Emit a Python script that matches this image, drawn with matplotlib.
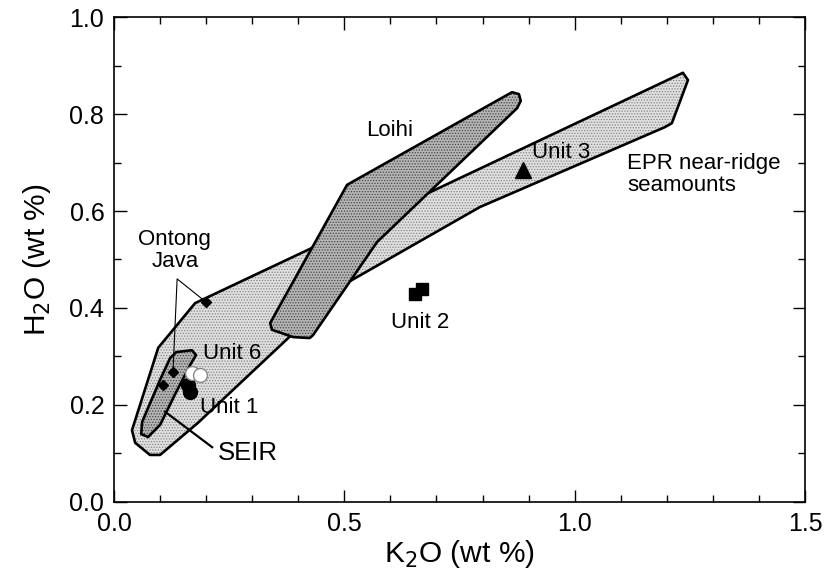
import matplotlib
matplotlib.use("Agg")
import matplotlib.pyplot as plt
from matplotlib.patches import Polygon
from matplotlib.ticker import MultipleLocator, FormatStrFormatter

plt.rcParams['font.family'] = ['Liberation Sans', 'DejaVu Sans']
plt.rcParams['hatch.linewidth'] = 0.6

# Compositional fields (K2O, H2O in wt %)
epr_k2o = [0.176, 1.235, 1.246, 1.211, 1.196, 0.794, 0.506, 0.182,
           0.100, 0.078, 0.046, 0.039, 0.096]
epr_h2o = [0.410, 0.885, 0.870, 0.781, 0.773, 0.608, 0.452, 0.163,
           0.097, 0.097, 0.122, 0.148, 0.318]

loihi_k2o = [0.506, 0.339, 0.343, 0.389, 0.425, 0.432, 0.571, 0.875,
             0.883, 0.879, 0.864]
loihi_h2o = [0.654, 0.369, 0.355, 0.340, 0.338, 0.344, 0.536, 0.812,
             0.827, 0.841, 0.845]

seir_k2o = [0.135, 0.169, 0.178, 0.165, 0.132, 0.100, 0.074, 0.059,
            0.061, 0.100, 0.122]
seir_h2o = [0.309, 0.313, 0.303, 0.282, 0.221, 0.159, 0.134, 0.140,
            0.165, 0.252, 0.297]

# Sample points
ontong_k2o = [0.200, 0.128, 0.106]
ontong_h2o = [0.412, 0.268, 0.241]
unit1_k2o = [0.161, 0.165]
unit1_h2o = [0.241, 0.227]
unit6_k2o = [0.169, 0.187]
unit6_h2o = [0.266, 0.262]
unit2_k2o = [0.653, 0.668]
unit2_h2o = [0.429, 0.439]
unit3_k2o = [0.888]
unit3_h2o = [0.685]

fig = plt.figure(figsize=(8.28, 5.75), dpi=100)
ax = fig.add_axes([0.1377, 0.127, 0.8345, 0.8434])


def field(ax, xs, ys, face, dots, z):
    pts = list(zip(xs, ys))
    ax.add_patch(Polygon(pts, closed=True, facecolor=face, edgecolor=dots,
                         hatch='......', linewidth=0, zorder=z))
    ax.add_patch(Polygon(pts, closed=True, fill=False, edgecolor='black',
                         linewidth=1.9, joinstyle='round', zorder=z + 0.1))


field(ax, epr_k2o, epr_h2o, '#e0e0e0', '#858585', 1)
field(ax, loihi_k2o, loihi_h2o, '#b5b5b5', '#454545', 2)
field(ax, seir_k2o, seir_h2o, '#b5b5b5', '#454545', 2)

# Leader lines
ax.plot([0.111, 0.213], [0.186, 0.113], color='black', lw=1.6, zorder=5)
ax.plot([ontong_k2o[0], 0.137, ontong_k2o[1]],
        [ontong_h2o[0], 0.460, ontong_h2o[1]],
        color='black', lw=0.8, zorder=5)

ax.plot(ontong_k2o, ontong_h2o, 'D', color='black', ms=5.5, zorder=6)
ax.plot(unit1_k2o, unit1_h2o, 'o', color='black', ms=10, zorder=6)
ax.plot(unit6_k2o, unit6_h2o, 'o', mfc='white', mec='#888888', mew=1.0,
        ms=10, zorder=7)
ax.plot(unit2_k2o, unit2_h2o, 's', color='black', ms=9, zorder=6)
ax.plot(unit3_k2o, unit3_h2o, '^', color='black', ms=11, zorder=6)

fs = 16
ax.text(0.599, 0.767, 'Loihi', fontsize=fs, ha='center', va='center')
ax.text(0.907, 0.720, 'Unit 3', fontsize=fs, ha='left', va='center', zorder=8)
ax.text(1.114, 0.676, 'EPR near-ridge\nseamounts', fontsize=fs, ha='left',
        va='center', linespacing=1.05)
ax.text(0.664, 0.371, 'Unit 2', fontsize=fs, ha='center', va='center')
ax.text(0.193, 0.307, 'Unit 6', fontsize=fs, ha='left', va='center', zorder=8)
ax.text(0.187, 0.194, 'Unit 1', fontsize=fs, ha='left', va='center', zorder=8)
ax.text(0.226, 0.101, 'SEIR', fontsize=18.5, ha='left', va='center', zorder=8)
ax.text(0.132, 0.518, 'Ontong\nJava', fontsize=fs, ha='center', va='center',
        linespacing=1.05)

ax.set_xlim(0, 1.5)
ax.set_ylim(0, 1.0)
ax.xaxis.set_major_locator(MultipleLocator(0.5))
ax.xaxis.set_minor_locator(MultipleLocator(0.1))
ax.yaxis.set_major_locator(MultipleLocator(0.2))
ax.yaxis.set_minor_locator(MultipleLocator(0.1))
ax.xaxis.set_major_formatter(FormatStrFormatter('%.1f'))
ax.yaxis.set_major_formatter(FormatStrFormatter('%.1f'))
ax.tick_params(which='both', direction='in', top=True, right=True,
               labelsize=18, width=1.0)
ax.tick_params(which='major', length=9, pad=7)
ax.tick_params(which='minor', length=5)
for s in ax.spines.values():
    s.set_linewidth(1.2)

ax.set_xlabel('K$_2$O (wt %)', fontsize=21.5, labelpad=2)
ax.set_ylabel('H$_2$O (wt %)', fontsize=21.5, labelpad=12)

fig.savefig('out.png', dpi=100)
